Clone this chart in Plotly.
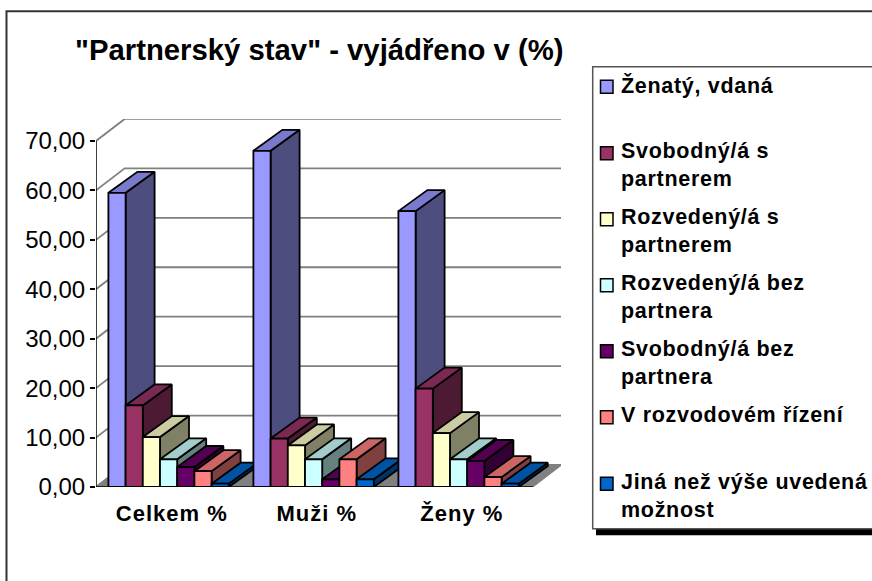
import plotly.graph_objects as go

categories = ["Celkem %", "Muži %", "Ženy %"]
zenaty = [59.5, 68.0, 55.8]
svobodny_s = [16.5, 9.8, 19.9]
rozvedeny_s = [10.1, 8.4, 10.9]
rozvedeny_bez = [5.6, 5.6, 5.6]
svobodny_bez = [4.05, 1.55, 5.26]
v_rozvodovem = [3.2, 5.6, 2.0]
jina = [0.67, 1.55, 0.67]
y_ticks = [0, 10, 20, 30, 40, 50, 60, 70]
y_tick_labels = ["0,00", "10,00", "20,00", "30,00", "40,00", "50,00", "60,00", "70,00"]
legend_labels = ["Ženatý, vdaná", "Svobodný/á s<br>partnerem", "Rozvedený/á s<br>partnerem",
                 "Rozvedený/á bez<br>partnera", "Svobodný/á bez<br>partnera",
                 "V rozvodovém řízení", "Jiná než výše uvedená<br>možnost"]
series = [zenaty, svobodny_s, rozvedeny_s, rozvedeny_bez, svobodny_bez, v_rozvodovem, jina]
front = ["#9999FF", "#993366", "#FFFFCC", "#CCFFFF", "#660066", "#FF8080", "#0066CC"]
top = ["#7A7ACC", "#7A2952", "#CCCCA3", "#A3CCCC", "#520052", "#CC6666", "#0052A3"]
side = ["#4D4D80", "#4D1A33", "#808066", "#668080", "#330033", "#804040", "#003366"]

W, H = 872, 581
PL, PR, PT, PB = 96.0, 561.0, 118.7, 486.7
PX_PER_X = 145.0
PX_PER_Y = 4.944
wall_dx, wall_dy = 28.7 / PX_PER_X, 22.0 / PX_PER_Y
bar_dx, bar_dy = 29.0 / PX_PER_X, 21.0 / PX_PER_Y
bar_w = 17.2 / PX_PER_X
gap = 12.4 / PX_PER_X
xmax = (PR - PL) / PX_PER_X
ymax = (PB - PT) / PX_PER_Y
n_cat = len(categories)
x_end = n_cat + 2.0 / PX_PER_X
LS = "letter-spacing:0.7px"

fig = go.Figure()

def poly(xs, ys, fill, line="black", width=1.8):
    fig.add_trace(go.Scatter(x=xs + xs[:1], y=ys + ys[:1], mode="lines", fill="toself", fillcolor=fill,
                             line=dict(color=line, width=width), hoverinfo="skip", showlegend=False,
                             cliponaxis=False))

# floor
poly([0, x_end, x_end + wall_dx, wall_dx], [0, 0, wall_dy, wall_dy], "#808080", "#808080", 1)

# gridlines on the side wall and back wall
gx, gy = [], []
for v in y_ticks:
    gx += [0, wall_dx, x_end + wall_dx, None]
    gy += [v, v + wall_dy, v + wall_dy, None]
fig.add_trace(go.Scatter(x=gx, y=gy, mode="lines", line=dict(color="#808080", width=1.8),
                         hoverinfo="skip", showlegend=False, cliponaxis=False))

# axis lines
fig.add_trace(go.Scatter(x=[0, 0, x_end], y=[y_ticks[-1], 0, 0], mode="lines", line=dict(color="black", width=1.5),
                         hoverinfo="skip", showlegend=False, cliponaxis=False))

# bars, painted left to right
for c in range(n_cat):
    for s, vals in enumerate(series):
        v = vals[c]
        x0 = c + gap + s * bar_w
        x1 = x0 + bar_w
        poly([x1, x1 + bar_dx, x1 + bar_dx, x1], [0, bar_dy, v + bar_dy, v], side[s])
        poly([x0, x0 + bar_dx, x1 + bar_dx, x1], [v, v + bar_dy, v + bar_dy, v], top[s])
        poly([x0, x1, x1, x0], [0, 0, v, v], front[s])

def px(x):
    return (x - PL) / (PR - PL)

def py(y):
    return (PB - y) / (PB - PT)

shapes = [
    # chart frame
    dict(type="rect", xref="paper", yref="paper", x0=px(6.5), x1=px(900), y0=py(11), y1=py(700),
         line=dict(color="#333333", width=2), fillcolor="rgba(0,0,0,0)", layer="below"),
    # legend shadow and box
    dict(type="rect", xref="paper", yref="paper", x0=px(596), x1=px(900), y0=py(72), y1=py(535),
         line=dict(width=0), fillcolor="black", layer="below"),
    dict(type="rect", xref="paper", yref="paper", x0=px(592.7), x1=px(900), y0=py(66.5), y1=py(528.5),
         line=dict(color="#555555", width=1.5), fillcolor="white", layer="below"),
]

annotations = [dict(text='"Partnerský stav" - vyjádřeno v (%)', xref="paper", yref="paper",
                    x=px(72.5), y=py(49), xanchor="left", yanchor="middle", showarrow=False,
                    font=dict(family="Liberation Sans", size=29.3, color="black", weight="bold"))]

centers = [86.5, 153, 219, 285, 351, 417, 483.5]
for i, (lab, cy) in enumerate(zip(legend_labels, centers)):
    shapes.append(dict(type="rect", xref="paper", yref="paper", x0=px(600.5), x1=px(613),
                       y0=py(cy - 6.5), y1=py(cy + 6.5), fillcolor=front[i],
                       line=dict(color="black", width=1.5)))
    parts = lab.split("<br>")
    text = "<br>".join(f'<span style="{LS}">{p}</span>' for p in parts)
    annotations.append(dict(text=text, xref="paper", yref="paper", x=px(619), y=py(cy - 16),
                            xanchor="left", yanchor="top", align="left", showarrow=False,
                            font=dict(family="Liberation Sans", size=21.5, color="black", weight="bold")))

fig.update_layout(
    width=W, height=H, autosize=False,
    margin=dict(l=PL, r=W - PR, t=PT, b=H - PB, pad=0),
    paper_bgcolor="white", plot_bgcolor="rgba(0,0,0,0)", showlegend=False,
    shapes=shapes, annotations=annotations,
    font=dict(family="Liberation Sans", color="black"),
    xaxis=dict(range=[0, xmax], tickvals=[0.523, 1.523, 2.523],
               ticktext=[f'<span style="letter-spacing:1px">{c}</span>' for c in categories],
               showgrid=False, zeroline=False, showline=False, ticks="outside", ticklen=7,
               tickcolor="rgba(0,0,0,0)", tickfont=dict(size=22, weight="bold", family="Liberation Sans")),
    yaxis=dict(range=[0, ymax], tickvals=y_ticks, ticktext=y_tick_labels,
               showgrid=False, zeroline=False, showline=False, ticks="outside", ticklen=5, tickwidth=1.5,
               tickcolor="black", tickfont=dict(size=24, family="Liberation Sans")),
)

fig.write_html("out.html", config={"displayModeBar": False},
               post_script="document.body.style.margin='0';document.body.style.overflow='hidden';")
